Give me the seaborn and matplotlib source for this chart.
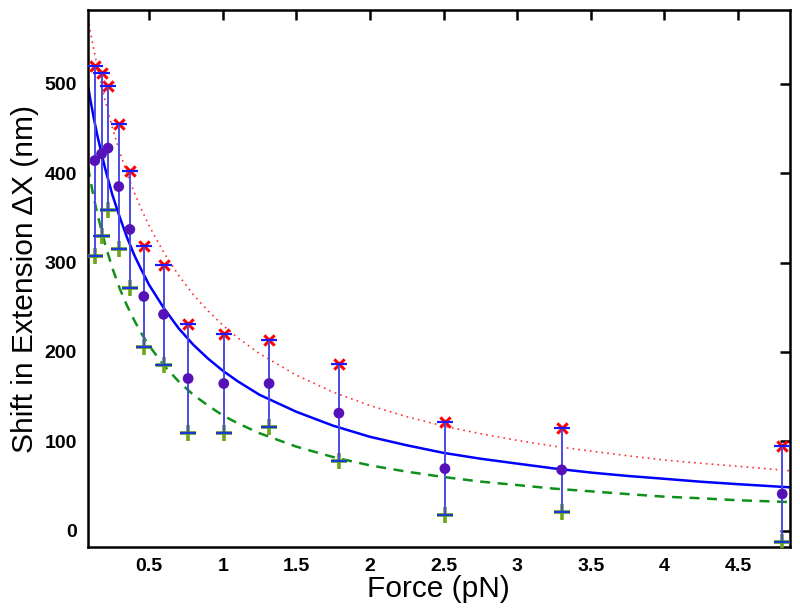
import numpy as np
import pandas as pd
import matplotlib
matplotlib.use("Agg")
import matplotlib.pyplot as plt
import seaborn as sns

force = [0.131, 0.177, 0.221, 0.294, 0.369, 0.464, 0.598, 0.765, 1.007, 1.315,
         1.789, 2.509, 3.302, 4.80]
shift_mean = [414, 421.5, 428, 385, 337, 262, 242, 170.2, 164.6, 164.6,
              131.5, 69.4, 68, 41.1]
shift_upper = [520, 512, 497, 455, 402, 318, 297.5, 231, 219.5, 213.5,
               186, 121.4, 114.7, 95.2]
shift_lower = [307, 330, 359, 315, 272, 205.7, 185.6, 109.4, 109.4, 116.1,
               78, 17.6, 21.3, -12.3]

# -- Model curves --------------------------------------------------------------
curve_force = [0.085, 0.1, 0.125, 0.15, 0.2, 0.25, 0.3, 0.35, 0.4, 0.45, 0.5,
               0.6, 0.7, 0.8, 0.9, 1.0, 1.1, 1.25, 1.5, 1.75, 2.0, 2.25, 2.5,
               2.75, 3.0, 3.25, 3.5, 3.75, 4.0, 4.25, 4.5, 4.85]
fit_mid = [498, 483, 461, 441, 406, 376, 351, 328, 308, 291, 275,
           249, 226.5, 208, 192.5, 179, 167.3, 152, 133, 117.4, 105, 95.5, 87,
           80.5, 75, 69.6, 65, 61.2, 58, 54.7, 52, 48.5]
fit_upper = [573, 559, 538, 518, 482, 451, 424, 399.6, 378, 358.7, 341,
             311, 285.8, 264, 246, 230, 216, 198, 174, 155, 140, 127.5, 117,
             108.5, 101, 94.5, 89, 83.8, 79, 75.3, 72, 67]
fit_lower = [407, 393, 372, 353.5, 321, 294, 271, 251.8, 235, 220, 207,
             185, 167, 152, 140, 129, 120.3, 109, 94, 82.3, 73, 66, 60,
             54.9, 51, 47, 44, 40.9, 38, 36.2, 34, 32]

x_ticks = [0.5, 1, 1.5, 2, 2.5, 3, 3.5, 4, 4.5]
x_tick_labels = ["0.5", "1", "1.5", "2", "2.5", "3", "3.5", "4", "4.5"]
y_ticks = [0, 100, 200, 300, 400, 500]

pts = pd.DataFrame({"F": force, "mean": shift_mean,
                    "up": shift_upper, "lo": shift_lower})
curves = pd.DataFrame({"F": curve_force, "mid": fit_mid,
                       "up": fit_upper, "lo": fit_lower})

sns.set_style("white")
plt.rcParams["font.family"] = ["Liberation Sans", "DejaVu Sans"]
plt.rcParams["text.color"] = "black"
plt.rcParams["axes.labelcolor"] = "black"

fig = plt.figure(figsize=(8, 6.15), dpi=100)
ax = fig.add_axes([0.110, 0.111, 0.877, 0.872])

# fit curves
sns.lineplot(data=curves, x="F", y="up", ax=ax, color="#ff3030", lw=1.2,
             linestyle=(0, (1, 2.5)), sort=False, zorder=2)
sns.lineplot(data=curves, x="F", y="lo", ax=ax, color="#10901a", lw=1.8,
             linestyle=(0, (4, 3)), sort=False, zorder=2)
sns.lineplot(data=curves, x="F", y="mid", ax=ax, color="#0000ff", lw=1.8,
             sort=False, zorder=2)

# upper / lower markers
ax.scatter(pts["F"], pts["up"], marker="x", s=55, color="red", lw=2.2, zorder=3)
ax.scatter(pts["F"], pts["lo"], marker="+", s=120, color="#6aa51a", lw=2.6, zorder=3)

# error bars from lower to upper
ax.vlines(pts["F"], pts["lo"], pts["up"], color="#4a4ae8", lw=1.4, zorder=4)
cap = 0.055
ax.hlines(pts["up"], pts["F"] - cap, pts["F"] + cap, color="#1a1aff", lw=1.6, zorder=4)
ax.hlines(pts["lo"], pts["F"] - cap, pts["F"] + cap, color="#1a3ad0", lw=1.6, zorder=4)

# means
sns.scatterplot(data=pts, x="F", y="mean", ax=ax, color="#5512b8", s=60,
                edgecolor="none", zorder=5)

ax.set_xlim(0.085, 4.85)
ax.set_ylim(-18, 582)
ax.set_xticks(x_ticks)
ax.set_xticklabels(x_tick_labels)
ax.set_yticks(y_ticks)

for s in ax.spines.values():
    s.set_linewidth(1.8)
    s.set_color("black")
ax.tick_params(direction="in", length=7, width=1.8, top=True, right=True,
               labelsize=14, pad=8, colors="black")
for lab in ax.get_xticklabels() + ax.get_yticklabels():
    lab.set_fontweight("bold")

ax.set_xlabel("Force (pN)", fontsize=21.5, labelpad=0)
ax.set_ylabel("Shift in Extension \u0394X (nm)", fontsize=21.5, labelpad=4)

fig.savefig("out.png", dpi=100)
